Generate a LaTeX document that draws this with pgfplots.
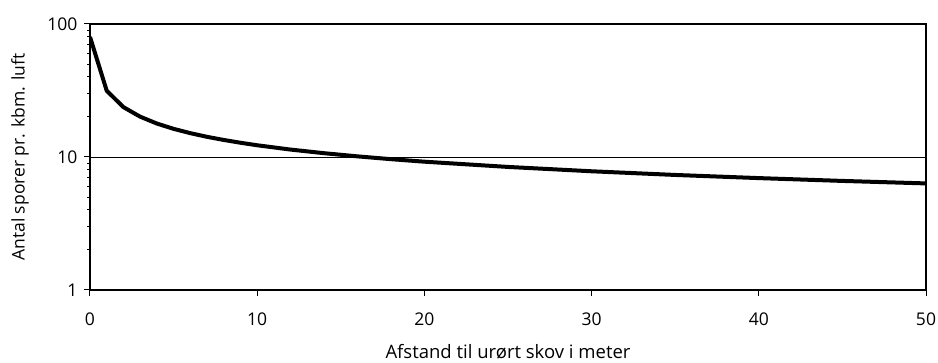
\documentclass[border=0pt]{standalone}
\usepackage{pgfplots}
\pgfplotsset{compat=1.18}
\usepackage{fontspec}
\setmainfont{Open Sans}
\begin{document}
\begin{tikzpicture}[x=1pt,y=1pt]
\useasboundingbox (-90,-73) rectangle (848,290);
\begin{axis}[
  at={(0,0)}, anchor=south west,
  scale only axis, width=836pt, height=266pt,
  ymode=log, ymin=1, ymax=100,
  xmin=0, xmax=50,
  xtick={0,10,...,50},
  ytick={1,10,100},
  yticklabels={1,10,100},
  minor ytick={},
  xtick pos=left, ytick pos=left,
  /pgf/number format/assume math mode=true,
  tick align=outside,
  major tick length=6pt,
  axis line style={line width=1.2pt},
  tick style={line width=1pt, black},
  ymajorgrids, grid style={line width=0.8pt, black},
  tick label style={font=\fontsize{17.5}{20}\selectfont},
  label style={font=\fontsize{17.5}{20}\selectfont},
  xlabel={Afstand til urørt skov i meter},
  ylabel={Antal sporer pr. kbm. luft},
  xlabel style={at={(axis description cs:0.5,0)}, anchor=base, yshift=-69pt, font=\fontsize{18.5}{20}\selectfont},
  ylabel style={at={(axis description cs:0,0.5)}, anchor=center, yshift=70pt},
  yticklabel style={xshift=-3pt},
  xticklabel style={yshift=-13pt},
]
\addplot[black, line width=4pt, line join=round] coordinates {
(0,80) (1,31.5) (2,23.7) (3,20.1) (4,17.84) (5,16.28) (6,15.11) (7,14.18) (8,13.43) (9,12.80)
(10,12.25) (12,11.37) (14,10.68) (16,10.11) (18,9.63) (20,9.22) (25,8.42) (30,7.81)
(35,7.33) (40,6.94) (45,6.61) (50,6.33)
};
\end{axis}
\end{tikzpicture}
\end{document}
